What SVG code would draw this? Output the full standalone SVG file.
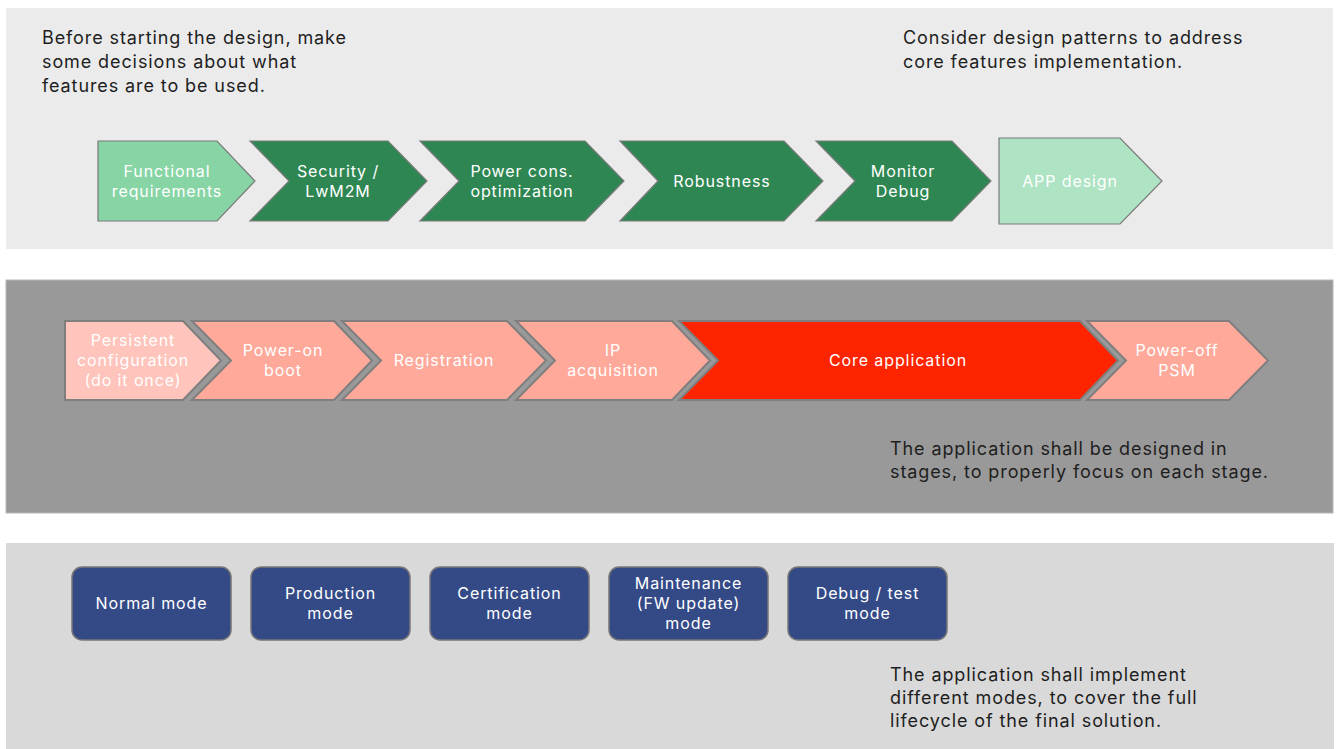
<svg xmlns="http://www.w3.org/2000/svg" width="1336" height="749" viewBox="0 0 1336 749">
<style>
  .note { font-family: Inter, "Liberation Sans", sans-serif; font-size: 18px; letter-spacing: 0.9px; fill: #1e1e1e; }
  .lbl { font-family: Inter, "Liberation Sans", sans-serif; font-size: 16px; letter-spacing: 0.9px; fill: #ffffff; text-anchor: middle; }
  .g1 { stroke: #7a7a7a; stroke-width: 1.2; }
  .r2 { stroke: #7f7f7f; stroke-width: 2; }
  .mode { fill: #344a87; stroke: #777777; stroke-width: 1.5; }
</style>
<rect width="1336" height="749" fill="#ffffff"/>
<!-- panels -->
<rect id="panel1" x="6" y="8" width="1327" height="241" fill="#ebebeb"/>
<rect id="panel2" x="6" y="280" width="1327" height="233" fill="#999999" stroke="#b8b8b8" stroke-width="1"/>
<rect id="panel3" x="6" y="543" width="1328" height="206" fill="#d9d9d9"/>

<text class="note" x="42" y="44">Before starting the design, make</text>
<text class="note" x="42" y="68">some decisions about what</text>
<text class="note" x="42" y="92">features are to be used.</text>
<text class="note" x="903" y="44">Consider design patterns to address</text>
<text class="note" x="903" y="68">core features implementation.</text>

<g id="n-functional">
  <polygon class="g1" points="98,141 217,141 255,181 217,221 98,221" fill="#87d5a5"/>
  <text class="lbl" x="167" y="177">Functional</text>
  <text class="lbl" x="167" y="197">requirements</text>
</g>
<g id="n-security">
  <polygon class="g1" points="250,141 388,141 427,181 388,221 250,221 289,181" fill="#2e8753"/>
  <text class="lbl" x="338" y="177">Security /</text>
  <text class="lbl" x="338" y="197">LwM2M</text>
</g>
<g id="n-power">
  <polygon class="g1" points="420,141 585,141 624,181 585,221 420,221 459,181" fill="#2e8753"/>
  <text class="lbl" x="522" y="177">Power cons.</text>
  <text class="lbl" x="522" y="197">optimization</text>
</g>
<g id="n-robust">
  <polygon class="g1" points="620,141 784,141 823,181 784,221 620,221 658,181" fill="#2e8753"/>
  <text class="lbl" x="722" y="187">Robustness</text>
</g>
<g id="n-monitor">
  <polygon class="g1" points="816,141 952,141 991,181 952,221 816,221 855,181" fill="#2e8753"/>
  <text class="lbl" x="903" y="177">Monitor</text>
  <text class="lbl" x="903" y="197">Debug</text>
</g>
<g id="n-app">
  <polygon class="g1" points="999,138 1120,138 1162,181 1120,224 999,224" fill="#aee3c4"/>
  <text class="lbl" x="1070" y="187">APP design</text>
</g>

<g id="n-persistent">
  <polygon class="r2" points="65,321 183,321 221,360.5 183,400 65,400" fill="#ffc4bb"/>
  <text class="lbl" x="133" y="346">Persistent</text>
  <text class="lbl" x="133" y="366">configuration</text>
  <text class="lbl" x="133" y="386">(do it once)</text>
</g>
<g id="n-poweron">
  <polygon class="r2" points="192,321 334,321 372,360.5 334,400 192,400 231,360.5" fill="#ffa99b"/>
  <text class="lbl" x="283" y="356">Power-on</text>
  <text class="lbl" x="283" y="376">boot</text>
</g>
<g id="n-registration">
  <polygon class="r2" points="342,321 507,321 546,360.5 507,400 342,400 381,360.5" fill="#ffa99b"/>
  <text class="lbl" x="444" y="366">Registration</text>
</g>
<g id="n-ip">
  <polygon class="r2" points="516,321 672,321 710,360.5 672,400 516,400 555,360.5" fill="#ffa99b"/>
  <text class="lbl" x="613" y="356">IP</text>
  <text class="lbl" x="613" y="376">acquisition</text>
</g>
<g id="n-core">
  <polygon class="r2" points="679,321 1080,321 1118,360.5 1080,400 679,400 718,360.5" fill="#ff2400"/>
  <text class="lbl" x="898" y="366">Core application</text>
</g>
<g id="n-poweroff">
  <polygon class="r2" points="1087,321 1229,321 1268,360.5 1229,400 1087,400 1126,360.5" fill="#ffa99b"/>
  <text class="lbl" x="1177" y="356">Power-off</text>
  <text class="lbl" x="1177" y="376">PSM</text>
</g>

<text class="note" x="890" y="455">The application shall be designed in</text>
<text class="note" x="890" y="478">stages, to properly focus on each stage.</text>

<g id="n-normal">
  <rect class="mode" x="72" y="567" width="159" height="73" rx="10"/>
  <text class="lbl" x="151.5" y="609">Normal mode</text>
</g>
<g id="n-production">
  <rect class="mode" x="251" y="567" width="159" height="73" rx="10"/>
  <text class="lbl" x="330.5" y="599">Production</text>
  <text class="lbl" x="330.5" y="619">mode</text>
</g>
<g id="n-certification">
  <rect class="mode" x="430" y="567" width="159" height="73" rx="10"/>
  <text class="lbl" x="509.5" y="599">Certification</text>
  <text class="lbl" x="509.5" y="619">mode</text>
</g>
<g id="n-maintenance">
  <rect class="mode" x="609" y="567" width="159" height="73" rx="10"/>
  <text class="lbl" x="688.5" y="589">Maintenance</text>
  <text class="lbl" x="688.5" y="609">(FW update)</text>
  <text class="lbl" x="688.5" y="629">mode</text>
</g>
<g id="n-debug">
  <rect class="mode" x="788" y="567" width="159" height="73" rx="10"/>
  <text class="lbl" x="867.5" y="599">Debug / test</text>
  <text class="lbl" x="867.5" y="619">mode</text>
</g>

<text class="note" x="890" y="681">The application shall implement</text>
<text class="note" x="890" y="704">different modes, to cover the full</text>
<text class="note" x="890" y="727">lifecycle of the final solution.</text>

<g id="connectors"></g>
</svg>
